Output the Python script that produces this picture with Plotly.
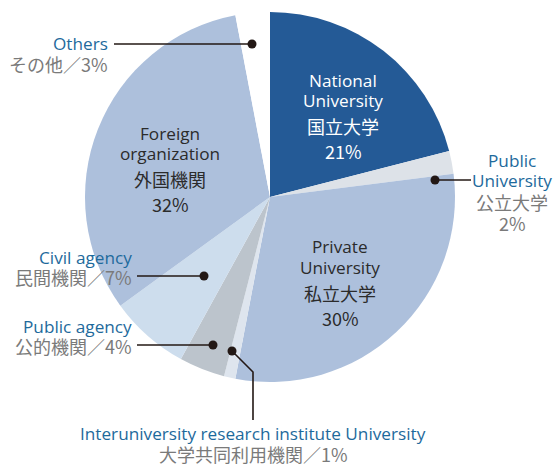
import plotly.graph_objects as go

W, H = 553, 465

categories = ["National University", "Public University", "Private University",
              "Interuniversity research institute University", "Public agency",
              "Civil agency", "Foreign organization", "Others"]
categories_ja = ["国立大学", "公立大学", "私立大学", "大学共同利用機関", "公的機関",
                 "民間機関", "外国機関", "その他"]
values = [21, 2, 30, 1, 4, 7, 32, 3]
colors = ["#245a96", "#dde2e8", "#adc0dc", "#dee5ee", "#bcc4cc",
          "#cddded", "#adc0dc", "#ffffff"]

# pie geometry in pixels
cx, cy, r = 270, 197, 185

def px(x, y):
    return x / W, 1 - y / H

EN = "'Open Sans', Lato, sans-serif"
JA = "'Noto Sans CJK JP', sans-serif"
BLUE = "#1e6a9c"
GRAY = "#7a7a7a"
DARK = "#231815"
ENS = 17.2
JAS = 18

fig = go.Figure(go.Pie(
    labels=categories, values=values, sort=False, direction="clockwise",
    rotation=0, marker=dict(colors=colors, line=dict(width=0)),
    textinfo="none", hoverinfo="label+percent", showlegend=False,
    domain=dict(x=[(cx - r) / W, (cx + r) / W],
                y=[1 - (cy + r) / H, 1 - (cy - r) / H]),
))

annotations = []
def txt(x, y, s, color, family, size, xanchor="center"):
    ax, ay = px(x, y)
    annotations.append(dict(x=ax, y=ay, xref="paper", yref="paper", text=s,
                            showarrow=False, xanchor=xanchor, yanchor="middle",
                            borderpad=0,
                            font=dict(color=color, family=family, size=size)))

# inside labels
for (x, y0, en1, en2, ja, v, col) in [
    (343, 80, "National", "University", categories_ja[0], values[0], "#ffffff"),
    (340, 247, "Private", "University", categories_ja[2], values[2], "#2b2b2b"),
    (170, 133, "Foreign", "organization", categories_ja[6], values[6], "#2b2b2b"),
]:
    txt(x, y0, en1, col, EN, ENS)
    txt(x, y0 + 20, en2, col, EN, ENS)
    txt(x, y0 + 46, ja, col, JA, JAS)
    txt(x, y0 + 71, f"{v}%", col, JA, JAS)

# outside labels
txt(512, 160, "Public", BLUE, EN, ENS)
txt(512, 180, "University", BLUE, EN, ENS)
txt(512, 202, categories_ja[1], GRAY, JA, JAS)
txt(512, 223, f"{values[1]}%", GRAY, JA, JAS)

txt(109, 43, "Others", BLUE, EN, ENS, "right")
txt(109, 64, f"{categories_ja[7]}／{values[7]}%", GRAY, JA, JAS, "right")

txt(133, 257, "Civil agency", BLUE, EN, ENS, "right")
txt(133, 277, f"{categories_ja[5]}／{values[5]}%", GRAY, JA, JAS, "right")

txt(133, 326, "Public agency", BLUE, EN, ENS, "right")
txt(133, 346, f"{categories_ja[4]}／{values[4]}%", GRAY, JA, JAS, "right")

txt(253, 433, categories[3], BLUE, EN, ENS)
txt(253, 454, f"{categories_ja[3]}／{values[3]}%", GRAY, JA, JAS)

shapes = []
def line(pts):
    path = "M " + " L ".join(f"{px(x, y)[0]:.5f},{px(x, y)[1]:.5f}" for x, y in pts)
    shapes.append(dict(type="path", path=path, xref="paper", yref="paper",
                       line=dict(color=DARK, width=1.6)))
def dot(x, y, rr=4.5):
    x0, y0 = px(x - rr, y + rr)
    x1, y1 = px(x + rr, y - rr)
    shapes.append(dict(type="circle", xref="paper", yref="paper", x0=x0, y0=y0,
                       x1=x1, y1=y1, fillcolor=DARK, line=dict(width=0)))

line([(114, 44), (252, 44)]); dot(252, 44)
line([(435, 180), (471, 180)]); dot(435, 180)
line([(137, 276), (204, 276)]); dot(204, 276)
line([(137, 345), (213, 345)]); dot(213, 345)
line([(232, 351), (253, 372), (253, 420)]); dot(232, 351)

fig.update_layout(width=W, height=H, margin=dict(l=0, r=0, t=0, b=0),
                  paper_bgcolor="white", plot_bgcolor="white",
                  annotations=annotations, shapes=shapes)
fig.write_html("out.html", config={"displayModeBar": False},
               post_script="document.body.style.margin='0';document.body.style.overflow='hidden';")
